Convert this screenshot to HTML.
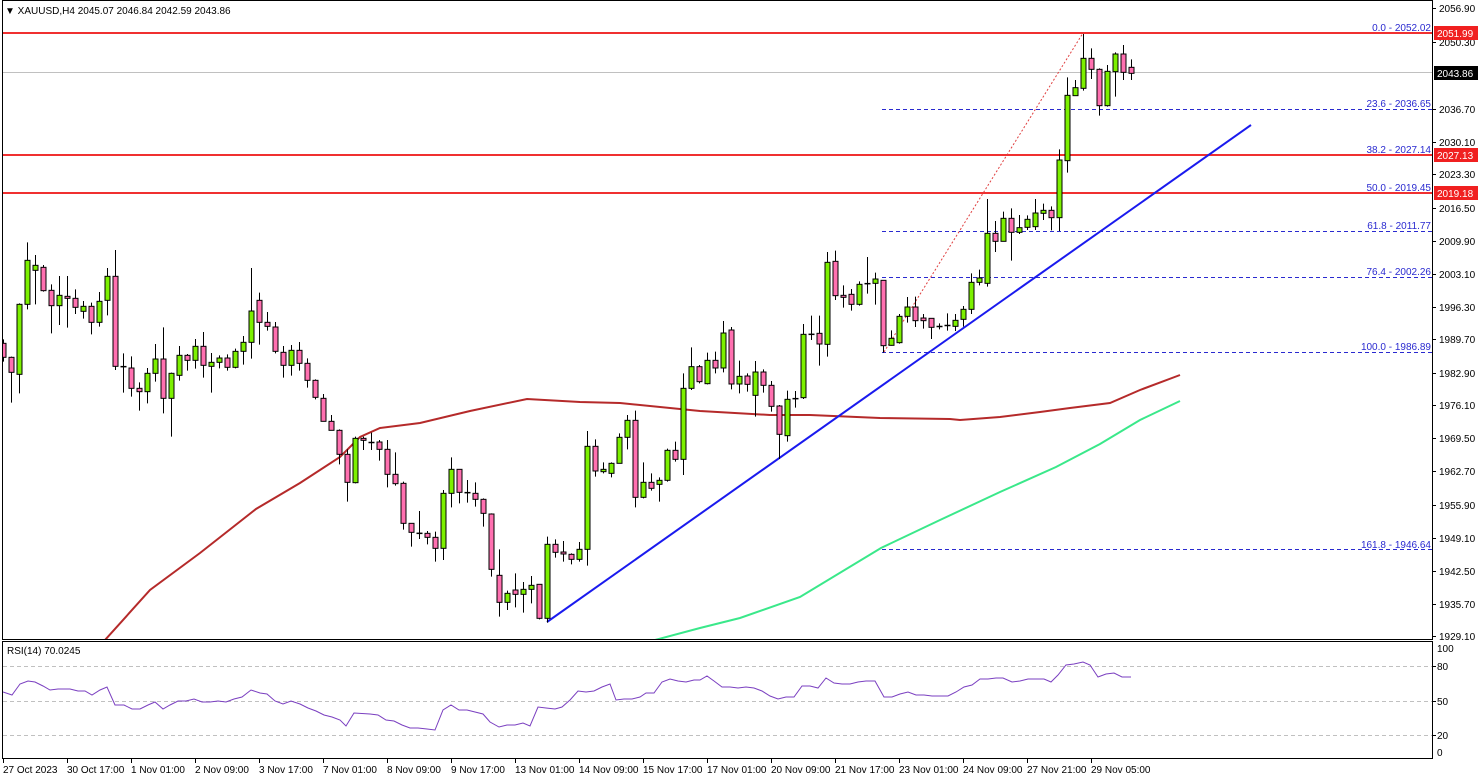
<!DOCTYPE html>
<html><head><meta charset="utf-8">
<style>
html,body{margin:0;padding:0;background:#fff;}
svg{display:block;font-family:"Liberation Sans",sans-serif;}
</style></head>
<body>
<svg id="c" width="1479" height="780" viewBox="0 0 1479 780" xmlns="http://www.w3.org/2000/svg">
<rect x="0" y="0" width="1479" height="780" fill="#fff"/>
<defs><clipPath id="mc"><rect x="3" y="1" width="1429" height="638"/></clipPath>
<clipPath id="rc"><rect x="3" y="643" width="1429" height="115"/></clipPath></defs>
<g id="main" clip-path="url(#mc)">
<!-- grey current price line -->
<line x1="3" y1="72.5" x2="1432" y2="72.5" stroke="#c0c0c0" stroke-width="1"/>
<!-- fib dashed -->
<g stroke="#2a2ad0" stroke-width="1" stroke-dasharray="4,3">
<line x1="882" y1="109.5" x2="1432" y2="109.5"/>
<line x1="882" y1="231.5" x2="1432" y2="231.5"/>
<line x1="882" y1="277.5" x2="1432" y2="277.5"/>
<line x1="882" y1="352.5" x2="1432" y2="352.5"/>
<line x1="882" y1="549.5" x2="1432" y2="549.5"/>
</g>
<!-- red horizontals -->
<g stroke="#f03030" stroke-width="2">
<line x1="3" y1="33" x2="1432" y2="33"/>
<line x1="3" y1="155" x2="1432" y2="155"/>
<line x1="3" y1="193" x2="1432" y2="193"/>
</g>
<!-- fib dotted trend -->
<line x1="884" y1="352" x2="1083" y2="33" stroke="#e04040" stroke-width="1" stroke-dasharray="2,2"/>
<!-- MAs -->
<polyline fill="none" stroke="#b52a2a" stroke-width="2" points="100,645 105,640 150,590 200,553 256,509 300,483 340,457 360,437 380,428 420,423 470,411 527,399 580,402 620,403 700,411 770,415 810,415 880,418 950,419 960,420 1000,417 1040,412 1070,408 1110,403 1140,390 1180,375"/>
<polyline fill="none" stroke="#3ae88a" stroke-width="2" points="640,645 655,640 700,628 740,618 800,597 881,548 940,520 1000,492 1056,467 1100,444 1140,420 1180,401"/>
<!-- blue trendline -->
<line x1="547" y1="622" x2="1251" y2="125" stroke="#1a1aee" stroke-width="2"/>
<g id="candles"></g>
</g>
<!-- fib labels -->
<g font-size="10" fill="#2a2ad0" text-anchor="end">
<text x="1431" y="31">0.0 - 2052.02</text>
<text x="1431" y="107">23.6 - 2036.65</text>
<text x="1431" y="153">38.2 - 2027.14</text>
<text x="1431" y="191">50.0 - 2019.45</text>
<text x="1431" y="229">61.8 - 2011.77</text>
<text x="1431" y="275">76.4 - 2002.26</text>
<text x="1431" y="350">100.0 - 1986.89</text>
<text x="1431" y="548">161.8 - 1946.64</text>
</g>
<!-- header -->
<text x="5" y="14" font-size="10" fill="#000">▼ XAUUSD,H4  2045.07 2046.84 2042.59 2043.86</text>
<!-- borders -->
<g stroke="#000" stroke-width="1" fill="none">
<rect x="2.5" y="0.5" width="1430" height="639"/>
<rect x="2.5" y="641.5" width="1430" height="117"/>
</g>
<!-- price axis -->
<g font-size="10" fill="#000" id="pax">
<text x="1439" y="12">2056.90</text>
<text x="1439" y="46">2050.30</text>
<text x="1439" y="113">2036.70</text>
<text x="1439" y="146">2030.10</text>
<text x="1439" y="178">2023.30</text>
<text x="1439" y="212">2016.50</text>
<text x="1439" y="245">2009.90</text>
<text x="1439" y="278">2003.10</text>
<text x="1439" y="311">1996.30</text>
<text x="1439" y="343">1989.70</text>
<text x="1439" y="377">1982.90</text>
<text x="1439" y="409">1976.10</text>
<text x="1439" y="442">1969.50</text>
<text x="1439" y="475">1962.70</text>
<text x="1439" y="509">1955.90</text>
<text x="1439" y="542">1949.10</text>
<text x="1439" y="575">1942.50</text>
<text x="1439" y="608">1935.70</text>
<text x="1439" y="640">1929.10</text>
</g>
<g stroke="#000" stroke-width="1">
<line x1="1433" y1="8.5" x2="1436" y2="8.5"/><line x1="1433" y1="42.5" x2="1436" y2="42.5"/>
<line x1="1433" y1="109.5" x2="1436" y2="109.5"/><line x1="1433" y1="142.5" x2="1436" y2="142.5"/>
<line x1="1433" y1="174.5" x2="1436" y2="174.5"/><line x1="1433" y1="208.5" x2="1436" y2="208.5"/>
<line x1="1433" y1="241.5" x2="1436" y2="241.5"/><line x1="1433" y1="274.5" x2="1436" y2="274.5"/>
<line x1="1433" y1="307.5" x2="1436" y2="307.5"/><line x1="1433" y1="339.5" x2="1436" y2="339.5"/>
<line x1="1433" y1="373.5" x2="1436" y2="373.5"/><line x1="1433" y1="405.5" x2="1436" y2="405.5"/>
<line x1="1433" y1="438.5" x2="1436" y2="438.5"/><line x1="1433" y1="471.5" x2="1436" y2="471.5"/>
<line x1="1433" y1="505.5" x2="1436" y2="505.5"/><line x1="1433" y1="538.5" x2="1436" y2="538.5"/>
<line x1="1433" y1="571.5" x2="1436" y2="571.5"/><line x1="1433" y1="604.5" x2="1436" y2="604.5"/>
<line x1="1433" y1="636.5" x2="1436" y2="636.5"/>
</g>
<!-- price tags -->
<rect x="1434" y="26" width="44" height="14" fill="#f02020"/>
<text x="1437" y="37" font-size="10" fill="#fff">2051.99</text>
<rect x="1434" y="66" width="44" height="14" fill="#000"/>
<text x="1437" y="77" font-size="10" fill="#fff">2043.86</text>
<rect x="1434" y="148" width="44" height="14" fill="#f02020"/>
<text x="1437" y="159" font-size="10" fill="#fff">2027.13</text>
<rect x="1434" y="186" width="44" height="14" fill="#f02020"/>
<text x="1437" y="197" font-size="10" fill="#fff">2019.18</text>
<!-- RSI panel -->
<g stroke="#c0c0c0" stroke-width="1" stroke-dasharray="4,3">
<line x1="3" y1="666.5" x2="1432" y2="666.5"/>
<line x1="3" y1="701.5" x2="1432" y2="701.5"/>
<line x1="3" y1="735.5" x2="1432" y2="735.5"/>
</g>
<text x="7" y="654" font-size="10" fill="#000">RSI(14) 70.0245</text>
<polyline clip-path="url(#rc)" fill="none" stroke="#7a3fc0" stroke-width="1" points="3,692 12,695 20,684 28,681 35,682 43,686 50,690 58,689 70,689 78,691 85,691 92,695 100,690 107,687 115,705 124,705 132,709 140,709 148,705 155,702 163,709 170,705 178,701 186,701 194,699 202,702 210,702 218,701 226,702 234,699 242,697 251,690 260,693 267,694 275,701 283,704 291,701 300,704 308,708 316,711 324,715 332,717 340,720 346,726 354,713 370,714 378,715 386,720 394,721 402,725 410,728 418,728 427,729 435,730 443,710 451,705 459,710 467,710 483,714 490,722 499,727 507,725 515,725 523,723 530,726 538,707 546,708 555,709 562,707 570,700 578,691 586,692 594,691 602,687 610,684 616,700 624,699 632,699 640,697 646,693 654,693 662,682 670,679 678,681 686,682 694,680 700,680 707,676 714,681 722,687 730,687 738,688 746,687 754,688 762,691 770,696 778,699 786,697 794,697 802,686 810,686 818,688 826,678 834,683 842,684 850,684 858,682 866,681 875,681 884,697 892,697 900,694 908,692 916,695 924,695 932,696 940,696 948,696 956,692 964,687 972,685 980,679 988,679 996,678 1003,678 1012,682 1020,681 1028,679 1036,679 1044,679 1051,682 1058,675 1066,665 1074,664 1083,662 1090,665 1098,677 1106,674 1114,673 1122,677 1131,677"/>
<g font-size="10" fill="#000">
<text x="1437" y="652">100</text>
<text x="1437" y="670">80</text>
<text x="1437" y="705">50</text>
<text x="1437" y="739">20</text>
<text x="1437" y="756">0</text>
</g>
<g stroke="#000"><line x1="1433" y1="666.5" x2="1436" y2="666.5"/><line x1="1433" y1="701.5" x2="1436" y2="701.5"/><line x1="1433" y1="735.5" x2="1436" y2="735.5"/></g>
<!-- time axis -->
<g font-size="10" fill="#000" id="tax">
<text x="3" y="773">27 Oct 2023</text>
<text x="67" y="773">30 Oct 17:00</text>
<text x="131" y="773">1 Nov 01:00</text>
<text x="195" y="773">2 Nov 09:00</text>
<text x="259" y="773">3 Nov 17:00</text>
<text x="323" y="773">7 Nov 01:00</text>
<text x="387" y="773">8 Nov 09:00</text>
<text x="451" y="773">9 Nov 17:00</text>
<text x="515" y="773">13 Nov 01:00</text>
<text x="579" y="773">14 Nov 09:00</text>
<text x="643" y="773">15 Nov 17:00</text>
<text x="707" y="773">17 Nov 01:00</text>
<text x="771" y="773">20 Nov 09:00</text>
<text x="835" y="773">21 Nov 17:00</text>
<text x="899" y="773">23 Nov 01:00</text>
<text x="963" y="773">24 Nov 09:00</text>
<text x="1027" y="773">27 Nov 21:00</text>
<text x="1091" y="773">29 Nov 05:00</text>
</g>
<g stroke="#000" id="tticks"></g>
</svg>
<script>
(function(){
var NS="http://www.w3.org/2000/svg";
var G=[
[230,[[0,'p',328,340,382,395],[1,'p',380,382,427,518],[2,'g',220,223,433,490],[3,'g',37,91,223,238],[4,'g',75,106,121,223],[5,'p',105,112,182,185],[6,'p',163,181,227,310],[7,'g',138,196,227,285],[8,'p',138,199,205,293],[9,'p',178,205,232,252],[10,'g',213,229,244,266],[11,'p',218,229,277,313],[12,'g',186,214,277,290],[13,'g',114,139,211,256],[14,'p',60,139,409,420],[15,'d',370,409,411,488],[16,'p',379,414,475,500],[17,'p',457,475,485,542],[18,'g',414,430,485,520],[19,'g',342,387,430,455],[20,'p',292,387,505,550],[21,'g',428,430,505,620],[22,'g',348,376,436,452],[23,'p',372,376,391,422],[24,'g',327,349,391,416],[25,'p',306,349,406,443],[26,'g',369,397,409,488],[27,'g',376,384,397,415],[28,'p',373,384,412,422],[29,'g',356,364,412,415],[30,'g',318,337,364,404],[31,'g',114,243,337,386],[32,'p',188,211,277,344],[33,'p',246,277,289,302],[34,'p',276,291,364,370],[35,'p',348,367,406,443],[36,'g',345,361,406,437],[37,'p',336,361,400,422],[38,'p',385,400,451,473],[39,'p',448,451,502,508],[40,'p',492,505,574,574],[41,'p',555,574,601,601],[42,'p',598,601,673,703],[43,'p',658,673,757,815],[44,'g',620,625,758,760],[45,'p',620,625,631,660],[46,'d',608,637,638,660]]],
[340,[[47,'p',300,306,328,362],[48,'p',300,328,403,442],[49,'p',337,403,431,437],[50,'p',425,430,550,569],[51,'p',550,550,577,620],[52,'d',513,579,581,597],[53,'p',573,580,592,613],[54,'p',575,592,625,665],[55,'g',450,460,625,660],[56,'g',352,388,460,502],[57,'p',388,388,457,490],[58,'d',420,457,459,488],[59,'p',427,460,478,500],[60,'p',475,478,520,560],[61,'p',520,522,688,710],[62,'p',628,706,787,830],[63,'g',752,760,787,810],[64,'p',700,750,763,802],[65,'g',726,748,763,818],[66,'g',708,736,748,790],[67,'p',733,733,835,838],[68,'g',590,613,835,848],[69,'p',598,613,637,653],[70,'p',603,636,642,665],[71,'p',640,643,658,673],[72,'g',606,628,658,665],[73,'g',273,319,628,677],[74,'p',298,319,393,410],[75,'g',367,388,395,400],[76,'g',367,370,400,412],[77,'g',280,292,370,370],[78,'g',225,241,292,328],[79,'p',212,241,472,502],[80,'g',367,427,472,475],[81,'p',400,427,445,452],[82,'g',412,421,433,485],[83,'g',326,331,421,425],[84,'p',305,331,358,365],[85,'g',100,145,358,405],[86,'g',22,80,145,150],[87,'p',75,80,125,130],[88,'g',38,61,131,133],[89,'p',35,61,84,100],[90,'g',-57,-21,84,97],[91,'p',-39,-30,132,148],[92,'g',62,109,132,160]]],
[160,[[93,'p',640,648,673,695],[94,'g',603,636,706,770],[95,'p',628,636,676,698],[96,'p',663,676,739,755],[97,'p',735,738,823,897],[98,'g',692,718,827,845],[99,'d',693,715,717,743],[100,'g',492,523,713,717],[101,'d',467,522,524,540],[102,'p',467,520,552,617],[103,'g',276,307,553,590],[104,'p',272,304,407,420],[105,'p',376,406,412,443],[106,'p',387,403,433,452],[107,'g',364,373,433,437],[108,'d',291,370,372,401],[109,'g',338,357,370,434],[110,'p',360,361,557,578],[111,'g',511,535,556,557],[112,'g',462,469,548,551],[113,'g',411,441,469,488],[114,'p',410,441,482,501],[115,'p',462,474,482,506],[116,'p',475,475,502,537],[117,'d',490,498,501,508],[118,'d',460,495,498,512],[119,'g',462,481,499,513],[120,'g',438,448,478,500],[121,'g',340,367,448,462],[122,'g',329,354,367,376],[123,'g',117,220,370,380],[124,'p',183,220,244,276],[125,'g',155,175,244,244],[126,'p',145,175,217,302],[127,'g',165,203,217,222],[128,'g',166,178,202,210],[129,'g',117,159,200,210],[130,'g',131,151,160,180],[131,'p',139,151,173,211]]],
[20,[[132,'g',388,420,593,633],[133,'g',172,226,422,458],[134,'g',180,203,227,227],[135,'g',42,115,205,212],[136,'p',85,115,148,177],[137,'p',145,148,257,287],[138,'g',135,154,257,260],[139,'g',97,102,155,230],[140,'p',75,102,157,180],[141,'p',118,142,160,180]]]
];
var cg=document.getElementById('candles');
function el(n,a){var e=document.createElementNS(NS,n);for(var k in a)e.setAttribute(k,a[k]);return e;}
G.forEach(function(g){var oy=g[0];g[1].forEach(function(c){
 var x=Math.round(3.3+8*c[0])+0.5;
 var wt=oy+c[2]/3,bt=oy+c[3]/3,bb=oy+c[4]/3,wb=oy+c[5]/3;
 cg.appendChild(el('line',{x1:x,y1:wt,x2:x,y2:wb,stroke:'#000','stroke-width':1}));
 if(c[1]=='d'){cg.appendChild(el('line',{x1:x-3,y1:(bt+bb)/2,x2:x+3,y2:(bt+bb)/2,stroke:'#000','stroke-width':1.5}));}
 else{var h=Math.max(bb-bt,1.5);cg.appendChild(el('rect',{x:x-2.5,y:bt,width:5,height:h,fill:c[1]=='g'?'#7cf000':'#ff70b0',stroke:'#000','stroke-width':1}));}
});});
var tt=document.getElementById('tticks');
for(var i=0;i<18;i++){var x=3+64*i+0.5;tt.appendChild(el('line',{x1:x,y1:759,x2:x,y2:763}));}
})();
</script>
</body></html>
